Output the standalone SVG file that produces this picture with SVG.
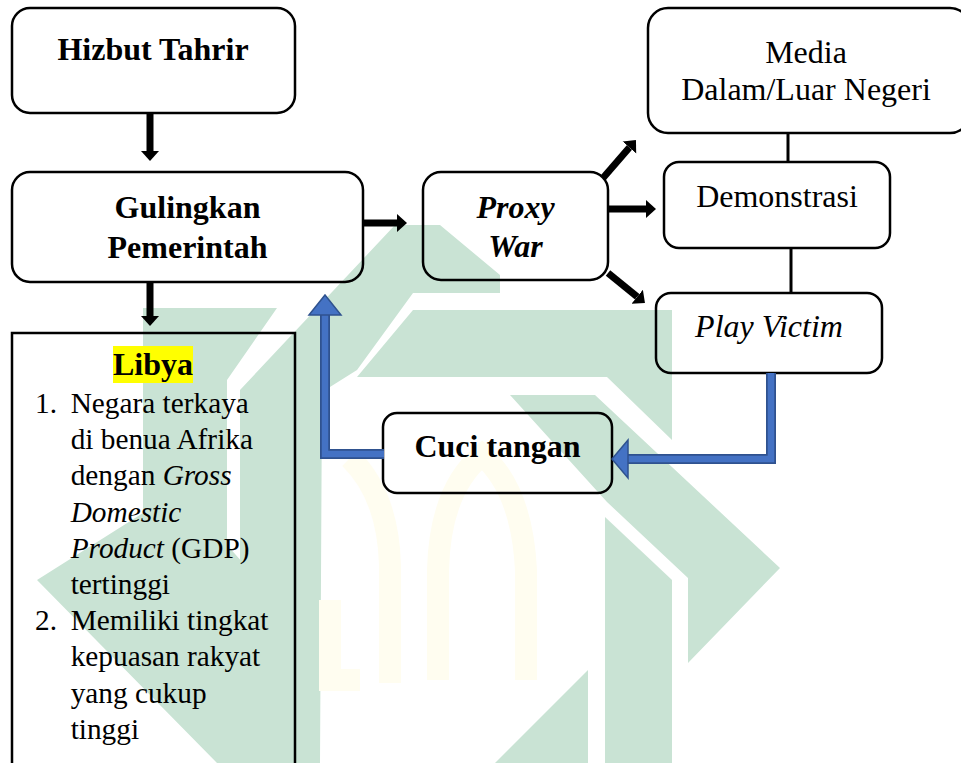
<svg xmlns="http://www.w3.org/2000/svg" width="961" height="763" viewBox="0 0 961 763">
<defs>
<style>
.box{fill:none;stroke:#000;stroke-width:2.5}
text{font-family:"Liberation Serif","Times New Roman",Times,"Noto Serif","DejaVu Serif",FreeSerif,serif}
.t{font-size:32px;fill:#000}
.b{font-weight:bold}
.i{font-style:italic}
.li{font-size:29.3px;fill:#000}
.wm{fill:#c9e3d4}
.wy{fill:none;stroke:#fffdf0;stroke-width:22}
.arr{stroke:#000;stroke-width:7;fill:none}
.bl-o{fill:none;stroke:#2f528f;stroke-width:10;stroke-linejoin:miter}
.bl-i{fill:none;stroke:#4472c4;stroke-width:6.5;stroke-linejoin:miter}
.blh{fill:#4472c4;stroke:#2f528f;stroke-width:1.5}
</style>
<marker id="ah" markerUnits="userSpaceOnUse" markerWidth="12" markerHeight="20" refX="0" refY="10" orient="auto">
<path d="M0,1 L10,10 L0,19 z" fill="#000"/>
</marker>
</defs>
<rect width="961" height="763" fill="#fff"/>
<g id="watermark">
<polygon class="wm" points="143,308 277,308 227,380 227,545 312,640 320,763 217,763 37,580 143,513"/>
<polygon class="wm" points="240,390 395,225 440,225 500,275 500,293 413,293 357,370 322,392 320,763 240,763"/>
<polygon class="wm" points="357,377 413,310 672,310 672,440 607,377"/>
<polygon class="wm" points="510,395 595,395 780,568 688,663 688,578 607,502"/>
<polygon class="wm" points="605,517 672,580 672,763 605,763"/>
<polygon class="wm" points="588,670 588,763 495,763"/>
<path class="wy" d="M438,680 V570 Q440,490 482,455 Q522,490 526,570 V680"/>
<path class="wy" d="M390,683 V565 Q388,495 350,458"/>
<path class="wy" d="M330,600 V680 H360"/>
</g>
<g id="n-hizbut">
<rect class="box" x="12" y="8" width="283" height="105" rx="18"/>
<text class="t b" font-family="Liberation Serif" x="153" y="60" text-anchor="middle">Hizbut Tahrir</text>
</g>
<g id="n-gulingkan">
<rect class="box" x="12" y="172" width="351" height="110" rx="18"/>
<text class="t b" font-family="Liberation Serif" x="187.5" y="218" text-anchor="middle">Gulingkan</text>
<text class="t b" font-family="Liberation Serif" x="187.5" y="258" text-anchor="middle">Pemerintah</text>
</g>
<g id="n-libya">
<path class="box" d="M12,775 V333 H295 V775"/>
<rect x="113" y="346" width="80" height="37" fill="#ffff00"/>
<text class="t b" font-family="Liberation Serif" x="153" y="375" text-anchor="middle">Libya</text>
<text class="li" font-family="Liberation Serif" x="35" y="413">1.</text>
<text class="li" font-family="Liberation Serif" x="70.7" y="413">Negara terkaya</text>
<text class="li" font-family="Liberation Serif" x="70.7" y="449.2">di benua Afrika</text>
<text class="li" font-family="Liberation Serif" x="70.7" y="485.4">dengan <tspan class="i">Gross</tspan></text>
<text class="li i" font-family="Liberation Serif" x="70.7" y="521.6">Domestic</text>
<text class="li" font-family="Liberation Serif" x="70.7" y="557.8"><tspan class="i">Product</tspan> (GDP)</text>
<text class="li" font-family="Liberation Serif" x="70.7" y="594">tertinggi</text>
<text class="li" font-family="Liberation Serif" x="35" y="630.2">2.</text>
<text class="li" font-family="Liberation Serif" x="70.7" y="630.2">Memiliki tingkat</text>
<text class="li" font-family="Liberation Serif" x="70.7" y="666.4">kepuasan rakyat</text>
<text class="li" font-family="Liberation Serif" x="70.7" y="702.6">yang cukup</text>
<text class="li" font-family="Liberation Serif" x="70.7" y="738.8">tinggi</text>
</g>
<g id="n-proxy">
<rect class="box" x="423" y="172" width="185" height="108" rx="18"/>
<text class="t b i" font-family="Liberation Serif" x="515.5" y="218" text-anchor="middle">Proxy</text>
<text class="t b i" font-family="Liberation Serif" x="515.5" y="257" text-anchor="middle">War</text>
</g>
<g id="n-media">
<rect class="box" x="648" y="8" width="322" height="125" rx="20"/>
<text class="t" font-family="Liberation Serif" x="806" y="63" text-anchor="middle">Media</text>
<text class="t" font-family="Liberation Serif" x="806" y="100" text-anchor="middle">Dalam/Luar Negeri</text>
</g>
<g id="n-demonstrasi">
<rect class="box" x="664" y="162" width="226" height="86" rx="15"/>
<text class="t" font-family="Liberation Serif" x="777" y="207" text-anchor="middle">Demonstrasi</text>
</g>
<g id="n-playvictim">
<rect class="box" x="656" y="293" width="226" height="80" rx="15"/>
<text class="t i" font-family="Liberation Serif" x="769" y="337" text-anchor="middle">Play Victim</text>
</g>
<g id="n-cuci">
<rect class="box" x="383" y="413" width="229" height="80" rx="14"/>
<text class="t b" font-family="Liberation Serif" x="497.5" y="457" text-anchor="middle">Cuci tangan</text>
</g>
<g id="connectors">
<line class="arr" x1="150" y1="114" x2="150" y2="151" marker-end="url(#ah)"/>
<line class="arr" x1="150" y1="283" x2="150" y2="316" marker-end="url(#ah)"/>
<line class="arr" x1="364" y1="223" x2="397" y2="223" marker-end="url(#ah)"/>
<line class="arr" x1="603" y1="178" x2="629.4" y2="147.5" marker-end="url(#ah)"/>
<line class="arr" x1="609" y1="209" x2="646" y2="209" marker-end="url(#ah)"/>
<line class="arr" x1="608" y1="273" x2="637.2" y2="296.7" marker-end="url(#ah)"/>
<line x1="788" y1="133" x2="788" y2="162" stroke="#000" stroke-width="3"/>
<line x1="791" y1="248" x2="791" y2="293" stroke="#000" stroke-width="3"/>
<path class="bl-o" d="M384,454 H325 V314"/>
<path class="bl-i" d="M384,454 H325 V314"/>
<polygon class="blh" points="309,315 325,295 341,315"/>
<path class="bl-o" d="M771,373 V459 H627"/>
<path class="bl-i" d="M771,373 V459 H627"/>
<polygon class="blh" points="628,440 612,459 628,478"/>
</g>
</svg>
